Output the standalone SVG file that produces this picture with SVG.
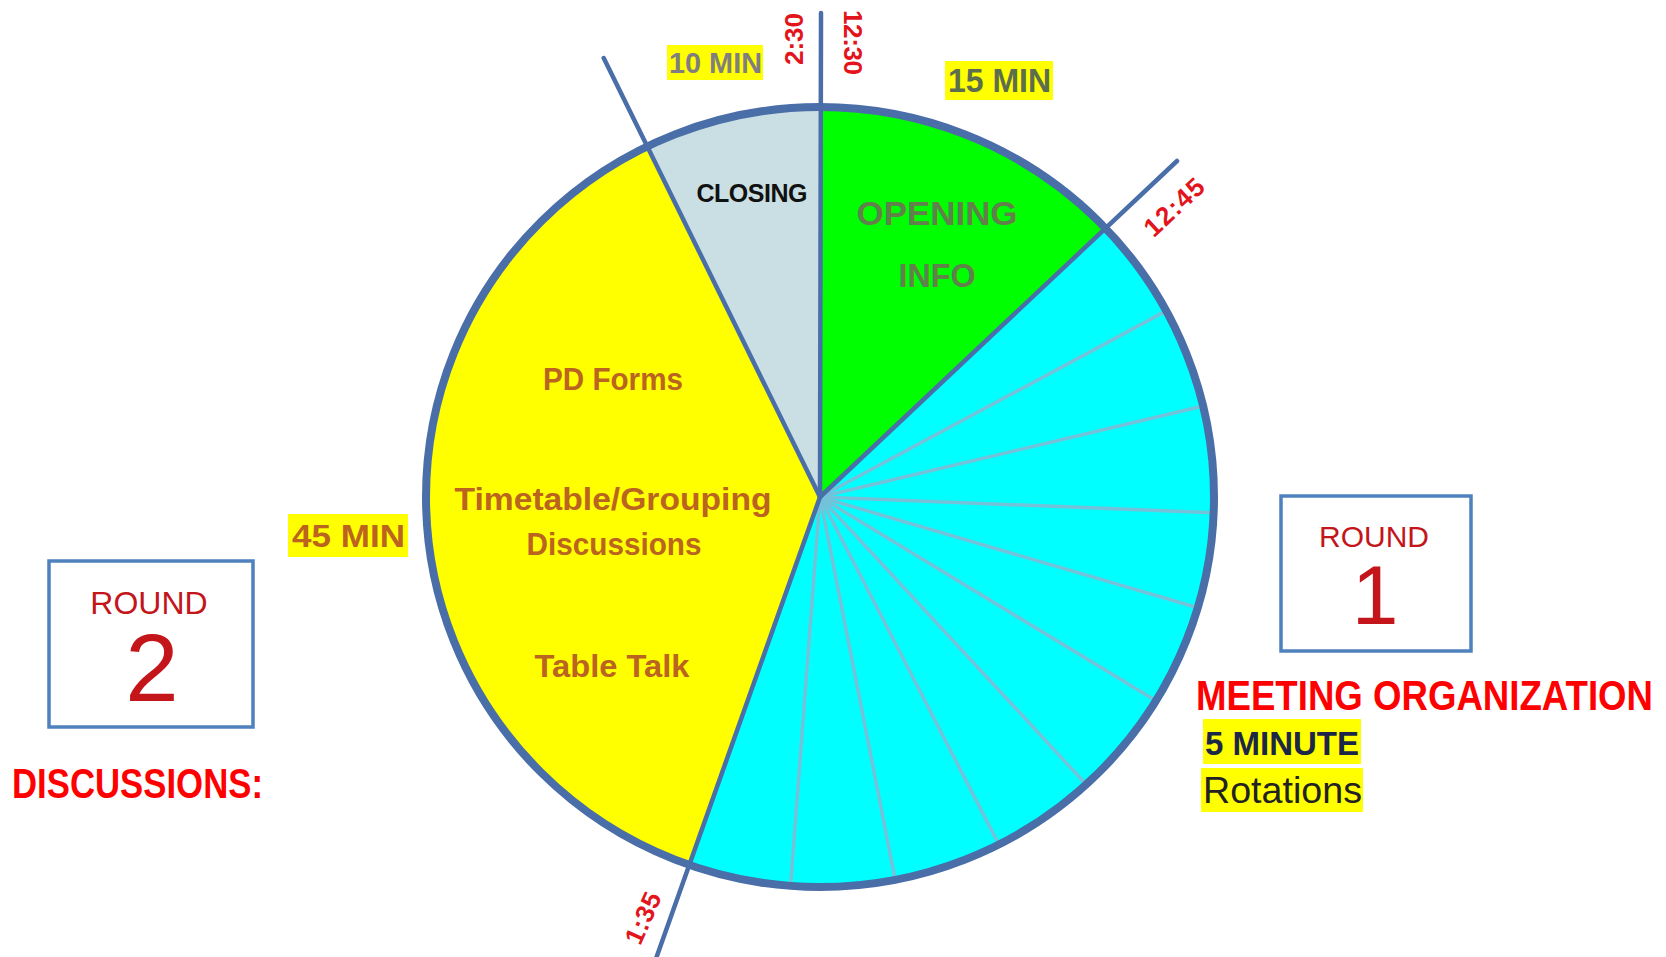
<svg xmlns="http://www.w3.org/2000/svg" width="1666" height="957" viewBox="0 0 1666 957">
<style>
.b{font-family:"Liberation Sans",Arial,sans-serif;font-weight:bold}
.r{font-family:"Liberation Sans",Arial,sans-serif}
.time{font-family:"Liberation Sans",Arial,sans-serif;font-weight:bold;font-size:26px;fill:#e3141b;text-anchor:middle}
.brown{fill:#bb6420;font-size:32px}
.hl{fill:#ffff00}
.bound{stroke:#4a6ea8;stroke-width:4.5;fill:none;stroke-linecap:round}
.thin{stroke:#74c2da;stroke-width:3.5;fill:none}
.box{fill:#fff;stroke:#4f81bd;stroke-width:3.5}
.rnd{fill:#c3151a;text-anchor:middle}
.big{fill:#ff0000;font-size:43px}
</style>
<rect width="1666" height="957" fill="#ffffff"/>

<g id="seg-opening">
<path d="M820,497 L820,107 A394,390 0 0 1 1105.8,228.5 Z" fill="#00ff00"/>
<text class="b" x="937" y="225" font-size="33" fill="#62804c" text-anchor="middle" textLength="161" lengthAdjust="spacingAndGlyphs">OPENING</text>
<text class="b" x="937" y="287" font-size="33" fill="#62804c" text-anchor="middle" textLength="77" lengthAdjust="spacingAndGlyphs">INFO</text>
</g>
<g id="seg-rotations">
<path d="M820,497 L1105.8,228.5 A394,390 0 0 1 688.5,864.6 Z" fill="#00ffff"/>
</g>
<g id="seg-discussions">
<path d="M820,497 L688.5,864.6 A394,390 0 0 1 647.3,146.5 Z" fill="#ffff00"/>
<text class="b brown" x="613" y="390" text-anchor="middle" textLength="140" lengthAdjust="spacingAndGlyphs">PD Forms</text>
<text class="b brown" x="613" y="510" text-anchor="middle" textLength="317" lengthAdjust="spacingAndGlyphs">Timetable/Grouping</text>
<text class="b brown" x="614" y="555" text-anchor="middle" textLength="175" lengthAdjust="spacingAndGlyphs">Discussions</text>
<text class="b brown" x="612" y="677" text-anchor="middle" textLength="155" lengthAdjust="spacingAndGlyphs">Table Talk</text>
</g>
<g id="seg-closing">
<path d="M820,497 L647.3,146.5 A394,390 0 0 1 820,107 Z" fill="#c9dfe3"/>
<text class="b" x="752" y="202" font-size="25" fill="#111111" text-anchor="middle" textLength="111">CLOSING</text>
</g>

<g id="connectors">
<line class="thin" x1="820" y1="497" x2="1166.2" y2="310.9"/>
<line class="thin" x1="820" y1="497" x2="1203.1" y2="406.0"/>
<line class="thin" x1="820" y1="497" x2="1213.7" y2="512.7"/>
<line class="thin" x1="820" y1="497" x2="1197.8" y2="607.8"/>
<line class="thin" x1="820" y1="497" x2="1155.9" y2="700.8"/>
<line class="thin" x1="820" y1="497" x2="1086.2" y2="784.5"/>
<line class="thin" x1="820" y1="497" x2="998.9" y2="844.5"/>
<line class="thin" x1="820" y1="497" x2="895.2" y2="879.8"/>
<line class="thin" x1="820" y1="497" x2="790.5" y2="885.9"/>
<line class="bound" x1="820" y1="497" x2="821" y2="13"/>
<line class="bound" x1="820" y1="497" x2="1177" y2="161"/>
<line class="bound" x1="820" y1="497" x2="655.5" y2="960"/>
<line class="bound" x1="820" y1="497" x2="603.7" y2="58"/>
<ellipse cx="820" cy="497" rx="394" ry="390" fill="none" stroke="#4a6ea8" stroke-width="8"/>
</g>

<g id="time-labels">
<text class="time" transform="translate(793.5,39) rotate(-90)" x="0" y="9" textLength="52">2:30</text>
<text class="time" transform="translate(853,42.5) rotate(90)" x="0" y="9" textLength="65">12:30</text>
<text class="time" transform="translate(1174,207) rotate(-43)" x="0" y="9" textLength="72">12:45</text>
<text class="time" transform="translate(643,918) rotate(-66)" x="0" y="9" textLength="54">1:35</text>
</g>

<g id="label-10min">
<rect class="hl" x="667" y="45" width="96" height="35" fill="#f6f542"/>
<text class="b" x="669" y="73" font-size="29" fill="#7f7f7f" textLength="93" lengthAdjust="spacingAndGlyphs">10 MIN</text>
</g>
<g id="label-15min">
<rect class="hl" x="945" y="61" width="108" height="39"/>
<text class="b" x="948" y="92" font-size="33" fill="#5d6e4e" textLength="103" lengthAdjust="spacingAndGlyphs">15 MIN</text>
</g>
<g id="label-45min">
<rect class="hl" x="288" y="514" width="120" height="43"/>
<text class="b" x="292" y="547" font-size="32" fill="#bb6420" textLength="113" lengthAdjust="spacingAndGlyphs">45 MIN</text>
</g>

<g id="round2">
<rect class="box" x="49" y="561" width="204" height="166"/>
<text class="r rnd" x="149" y="614" font-size="32">ROUND</text>
<text class="r rnd" x="152" y="701" font-size="96">2</text>
</g>
<g id="discussions-title">
<text class="b big" x="12" y="798" textLength="251" lengthAdjust="spacingAndGlyphs">DISCUSSIONS:</text>
</g>

<g id="round1">
<rect class="box" x="1281" y="496" width="190" height="155"/>
<text class="r rnd" x="1374" y="547" font-size="30">ROUND</text>
<text class="r rnd" x="1375" y="624" font-size="84">1</text>
</g>
<g id="meeting-org">
<text class="b big" x="1196" y="710" textLength="457" lengthAdjust="spacingAndGlyphs">MEETING ORGANIZATION</text>
<rect class="hl" x="1203" y="719" width="158" height="45"/>
<text class="b" x="1205" y="755" font-size="33" fill="#1c2747" textLength="154" lengthAdjust="spacingAndGlyphs">5 MINUTE</text>
<rect class="hl" x="1201" y="768" width="162" height="44"/>
<text class="r" x="1203" y="803" font-size="36" fill="#222222" textLength="159" lengthAdjust="spacingAndGlyphs">Rotations</text>
</g>
</svg>
